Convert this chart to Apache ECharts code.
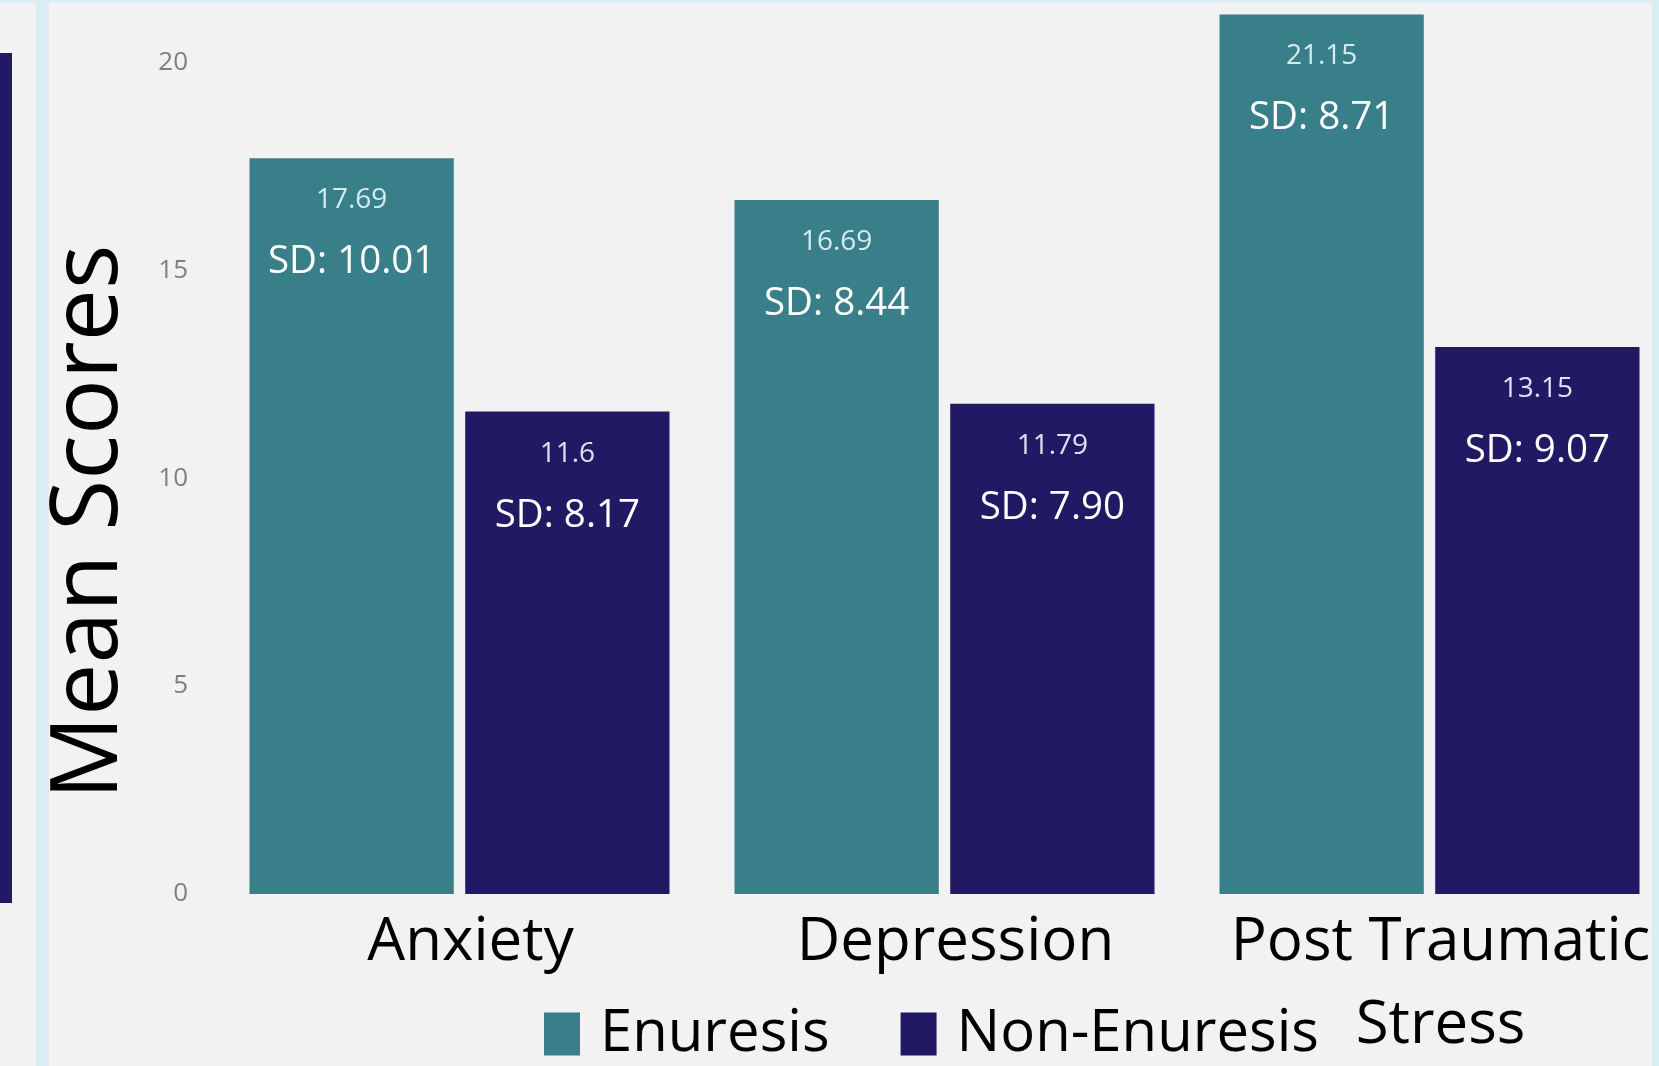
<!DOCTYPE html>
<html>
<head>
<meta charset="utf-8">
<script src="https://cdn.jsdelivr.net/npm/echarts@6/dist/echarts.min.js"></script>
<style>
html,body{margin:0;padding:0;background:#f2f2f2;}
#chart{width:1659px;height:1066px;}
</style>
</head>
<body>
<div id="chart"></div>
<script>
var categories = ['Anxiety', 'Depression', 'Post Traumatic\nStress'];
var seriesNames = ['Enuresis', 'Non-Enuresis'];
var enuresisMeans = [17.69, 16.69, 21.15];
var nonEnuresisMeans = [11.6, 11.79, 13.15];
var enuresisSD = ['10.01', '8.44', '8.71'];
var nonEnuresisSD = ['8.17', '7.90', '9.07'];
var yTicks = [0, 5, 10, 15, 20];
var yAxisTitle = 'Mean Scores';

var FONT = '"Open Sans", "Noto Sans", sans-serif';
var TEAL = '#387f89';
var NAVY = '#211963';

function makeLabel(sdArr, numColor) {
  return {
    show: true,
    position: 'insideTop',
    distance: 5,
    formatter: function (p) {
      return '{v|' + p.value + '}\n{sd|SD: ' + sdArr[p.dataIndex] + '}';
    },
    rich: {
      v: { fontFamily: FONT, fontSize: 28, lineHeight: 74, color: numColor, align: 'center' },
      sd: { fontFamily: FONT, fontSize: 38.5, lineHeight: 50, color: '#ffffff', align: 'center' }
    }
  };
}

var chart = echarts.init(document.getElementById('chart'), null, { renderer: 'canvas' });
chart.setOption({
  backgroundColor: '#f2f2f2',
  animation: false,
  graphic: [
    { type: 'rect', shape: { x: 0, y: 0, width: 1659, height: 3 }, style: { fill: '#daeef3' }, silent: true },
    { type: 'rect', shape: { x: 36, y: 0, width: 13, height: 1066 }, style: { fill: '#daeef3' }, silent: true },
    { type: 'rect', shape: { x: 1652, y: 0, width: 7, height: 1066 }, style: { fill: '#daeef3' }, silent: true },
    { type: 'rect', shape: { x: 0, y: 53, width: 12, height: 850 }, style: { fill: NAVY }, silent: true }
  ],
  legend: {
    data: seriesNames,
    left: 539,
    top: 1000,
    itemWidth: 36,
    itemHeight: 43,
    itemGap: 71,
    icon: 'rect',
    textStyle: { fontFamily: FONT, fontSize: 58, color: '#000000', padding: [0, 0, 0, 15] }
  },
  grid: { left: 217, top: 4, width: 1455, bottom: 172, containLabel: false, outerBoundsMode: 'none' },
  xAxis: {
    type: 'category',
    data: categories,
    axisLine: { show: false },
    axisTick: { show: false },
    axisLabel: {
      fontFamily: FONT, fontSize: 60, color: '#000000', margin: 7,
      lineHeight: 83, interval: 0, padding: [0, 0, 0, 22]
    }
  },
  yAxis: {
    type: 'value',
    min: 0,
    max: 21.4,
    interval: 5,
    splitLine: { show: false },
    axisLine: { show: false },
    axisTick: { show: false },
    axisLabel: {
      fontFamily: FONT, fontSize: 26, color: '#7f7f7f', margin: 29,
      formatter: function (v) { return yTicks.indexOf(v) >= 0 ? String(v) : ''; }
    },
    name: yAxisTitle,
    nameLocation: 'middle',
    nameRotate: 90,
    nameGap: 80,
    nameTextStyle: { fontFamily: FONT, fontSize: 93, color: '#000000', padding: [0, 146, 0, 0] }
  },
  series: [
    {
      name: seriesNames[0], type: 'bar', data: enuresisMeans,
      itemStyle: { color: TEAL },
      barGap: '5.6%', barCategoryGap: '13.4%',
      label: makeLabel(enuresisSD, '#d3ecef')
    },
    {
      name: seriesNames[1], type: 'bar', data: nonEnuresisMeans,
      itemStyle: { color: NAVY },
      label: makeLabel(nonEnuresisSD, '#e2def2')
    }
  ]
});
</script>
</body>
</html>
